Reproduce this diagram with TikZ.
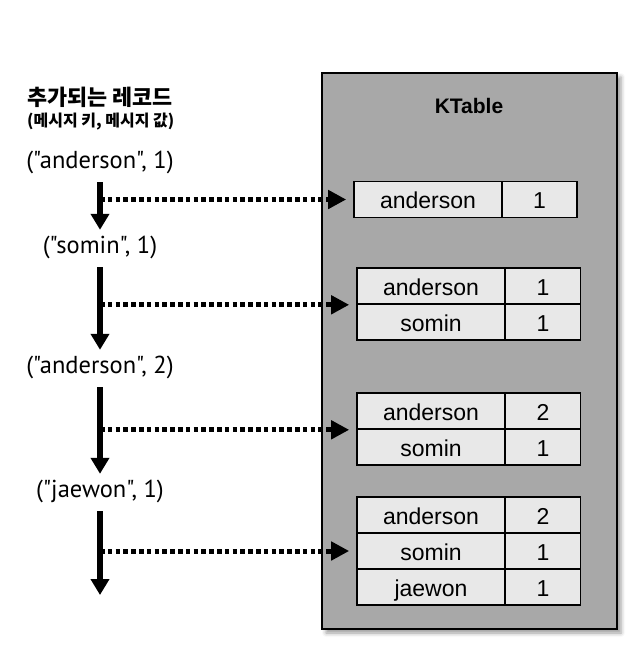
\documentclass[tikz,border=0pt]{standalone}
\usepackage{fontspec}
\setmainfont{PT Sans}[Ligatures=TeXOff]
\newfontfamily\krfont{Noto Sans CJK KR}
\newfontfamily\cellfont{Liberation Sans}
\usetikzlibrary{arrows.meta, shadows.blur}

\definecolor{tablegray}{HTML}{A8A8A8}
\definecolor{cellgray}{HTML}{E8E8E8}

\tikzset{
    keycell/.style={draw, line width=1.6pt, fill=cellgray, minimum width=148pt, minimum height=36pt, inner sep=0pt, text height=18pt, text depth=0pt, font=\cellfont\fontsize{23}{23}\selectfont},
    valcell/.style={keycell, minimum width=75pt},
    record/.style={inner sep=0pt, text height=15pt, text depth=5pt, font=\fontsize{24.5}{24.5}\selectfont},
    flow/.style={line width=5.5pt, -{Triangle[width=18pt,length=16pt]}, shorten <=9pt, shorten >=8pt},
    feed/.style={line width=5pt, dash pattern=on 4.5pt off 3.3pt, -{Triangle[width=18pt,length=18pt]}, shorten >=7pt},
}

\begin{document}
\begin{tikzpicture}[x=1pt, y=-1pt]
    \useasboundingbox (0,0) rectangle (644,664);

    % KTable container
    \node[draw, line width=1.8pt, fill=tablegray, minimum width=295pt, minimum height=556pt, blur shadow={shadow xshift=4pt, shadow yshift=-4pt, shadow blur radius=4pt}] (ktable) at (469.5, 351) {};
    \node[font=\cellfont\bfseries\fontsize{21}{21}\selectfont] (ktitle) at (469, 106) {KTable};

    % heading
    \node[anchor=west, inner sep=0pt, font=\krfont\bfseries\fontsize{21.8}{21.8}\selectfont] (head) at (27, 97) {추가되는 레코드};
    \node[anchor=west, inner sep=0pt, font=\krfont\bfseries\fontsize{16}{16}\selectfont] (subhead) at (27, 122) {(메시지 키, 메시지 값)};

    % incoming records
    \node[record] (r1) at (100, 163) {("anderson", 1)};
    \node[record] (r2) at (100, 248) {("somin", 1)};
    \node[record] (r3) at (100, 368) {("anderson", 2)};
    \node[record] (r4) at (100, 492) {("jaewon", 1)};
    \coordinate (tail) at (100, 595);

    % table states
    \node[keycell] (k1) at (428, 199.5) {anderson};
    \node[valcell] (v1) at (539.5, 199.5) {1};

    \node[keycell] (k2a) at (431, 286) {anderson};
    \node[valcell] (v2a) at (543, 286) {1};
    \node[keycell] (k2b) at (431, 322) {somin};
    \node[valcell] (v2b) at (543, 322) {1};

    \node[keycell] (k3a) at (431, 411) {anderson};
    \node[valcell] (v3a) at (543, 411) {2};
    \node[keycell] (k3b) at (431, 447) {somin};
    \node[valcell] (v3b) at (543, 447) {1};

    \node[keycell] (k4a) at (431, 515) {anderson};
    \node[valcell] (v4a) at (543, 515) {2};
    \node[keycell] (k4b) at (431, 551) {somin};
    \node[valcell] (v4b) at (543, 551) {1};
    \node[keycell] (k4c) at (431, 587) {jaewon};
    \node[valcell] (v4c) at (543, 587) {1};

    \draw[flow] (r1.south) -- (r2.north);
    \draw[flow] (r2.south) -- (r3.north);
    \draw[flow] (r3.south) -- (r4.north);
    \draw[flow, shorten >=0pt] (r4.south) -- (tail);

    \draw[feed] (r1 |- k1.west) -- (k1.west);
    \draw[feed] (r2 |- k2a.south west) -- (k2a.south west);
    \draw[feed] (r3 |- k3a.south west) -- (k3a.south west);
    \draw[feed] (r4 |- k4b.west) -- (k4b.west);

\end{tikzpicture}
\end{document}
